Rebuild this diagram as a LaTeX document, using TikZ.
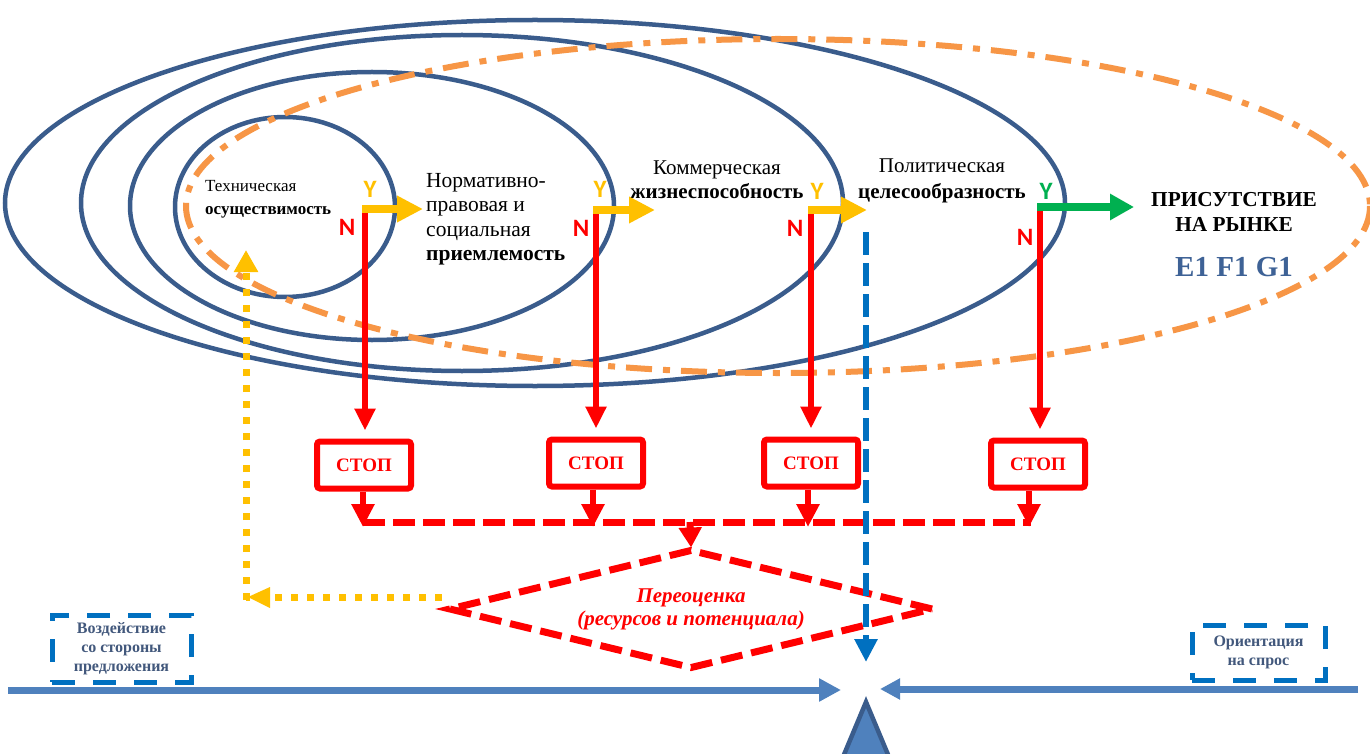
\documentclass[tikz,border=0pt]{standalone}
\usepackage{fontspec}
\setmainfont{Liberation Serif}
\newfontfamily\ynfont{Carlito}
\usetikzlibrary{arrows.meta,shapes.geometric}
\definecolor{ellblue}{RGB}{58,92,140}
\definecolor{orng}{RGB}{247,150,70}
\definecolor{ylw}{RGB}{255,192,0}
\definecolor{grn}{RGB}{0,176,80}
\definecolor{rd}{RGB}{255,0,0}
\definecolor{dblue}{RGB}{0,112,192}
\definecolor{lblue}{RGB}{79,129,189}
\definecolor{boxtxt}{RGB}{66,88,124}
\definecolor{efgblue}{RGB}{62,98,150}
\begin{document}
\begin{tikzpicture}[x=1pt,y=-1pt,
  ell/.style={draw=ellblue,line width=4.5pt},
  orngline/.style={draw=orng,line width=6pt,dash pattern=on 26pt off 11pt on 7pt off 11pt},
  txt/.style={inner sep=0pt},
  ylab/.style={font=\ynfont\bfseries\fontsize{25}{25}\selectfont,text=ylw,inner sep=0pt},
  glab/.style={font=\ynfont\bfseries\fontsize{25}{25}\selectfont,text=grn,inner sep=0pt},
  nlab/.style={font=\ynfont\bfseries\fontsize{25}{25}\selectfont,text=rd,inner sep=0pt},
  yarrow/.style={draw=ylw,line width=8pt,-{Triangle[length=26pt,width=25pt]}},
  garrow/.style={draw=grn,line width=8pt,-{Triangle[length=24pt,width=25pt]}},
  rarrow/.style={draw=rd,line width=6pt,-{Triangle[length=22pt,width=20pt]}},
  rsmall/.style={draw=rd,line width=6pt,-{Triangle[length=23pt,width=22pt]}},
  rdash/.style={draw=rd,line width=7pt,dash pattern=on 22pt off 8pt},
  stopbox/.style={draw=rd,line width=6pt,rounded corners=3pt,minimum width=94pt,minimum height=47pt,fill=white,text=rd,font=\bfseries\fontsize{19}{19}\selectfont},
  ydot/.style={draw=ylw,line width=7pt,dash pattern=on 7pt off 9pt},
  bdash/.style={draw=dblue,line width=6pt,dash pattern=on 23pt off 8pt,-{Triangle[length=23pt,width=22pt]}},
  dbox/.style={draw=dblue,line width=5pt,dash pattern=on 23pt off 18pt,text=boxtxt,font=\bfseries\fontsize{16}{19}\selectfont,align=center,inner sep=0pt},
  baseline/.style={draw=lblue,line width=7pt}
]
\useasboundingbox (0,0) rectangle (1370,754);
\fill[white] (0,0) rectangle (1370,754);

% nested ellipses
\draw[ell] (535,203) ellipse [x radius=530, y radius=183];
\draw[ell] (462,203) ellipse [x radius=381, y radius=168];
\draw[ell] (372,206) ellipse [x radius=242, y radius=134];
\draw[ell] (285,207) ellipse [x radius=110, y radius=90];
\draw[orngline] (778,206) ellipse [x radius=592, y radius=167];

% texts
\node[txt,anchor=west,align=left,font=\fontsize{17}{23}\selectfont] (tech) at (205,199) {Техническая\\\textbf{осуществимость}};
\node[txt,anchor=west,align=left,font=\fontsize{21.5}{24.5}\selectfont] (norm) at (426,219) {Нормативно-\\правовая и\\социальная\\\textbf{приемлемость}};
\node[txt,align=center,font=\fontsize{21}{24}\selectfont] (comm) at (717,180) {Коммерческая\\\textbf{жизнеспособность}};
\node[txt,align=center,font=\fontsize{21}{26}\selectfont] (pol) at (942,181) {Политическая\\\textbf{целесообразность}};
\node[txt,align=center,font=\bfseries\fontsize{21.3}{25}\selectfont] (mkt) at (1234,212) {ПРИСУТСТВИЕ\\НА РЫНКЕ};
\node[txt,font=\bfseries\fontsize{29}{29}\selectfont,text=efgblue] (efg) at (1234,267) {E1 F1 G1};

% Y / N labels
\node[ylab] (y1) at (370,189) {Y};
\node[ylab] (y2) at (600,189) {Y};
\node[ylab] (y3) at (817,191) {Y};
\node[glab] (y4) at (1046,191) {Y};
\node[nlab] (n1) at (347,227) {N};
\node[nlab] (n2) at (581,228) {N};
\node[nlab] (n3) at (795,228) {N};
\node[nlab] (n4) at (1025,237) {N};

% junction coordinates
\coordinate (j1) at (362,209); \coordinate (e1) at (423,209);
\coordinate (j2) at (593,210); \coordinate (e2) at (655,210);
\coordinate (j3) at (808,210); \coordinate (e3) at (867,210);
\coordinate (j4) at (1037,207); \coordinate (e4) at (1134,207);
\coordinate (r1) at (365,213);
\coordinate (r2) at (596,213);
\coordinate (r3) at (811,214);
\coordinate (r4) at (1040,211);

% STOP boxes
\node[stopbox] (s1) at (364,465) {СТОП};
\node[stopbox] (s2) at (596,463) {СТОП};
\node[stopbox] (s3) at (811,463) {СТОП};
\node[stopbox] (s4) at (1038,464) {СТОП};

% red N arrows
\draw[rarrow,shorten >=8pt] (r1) -- (r1 |- s1.north);
\draw[rarrow,shorten >=8pt] (r2) -- (r2 |- s2.north);
\draw[rarrow,shorten >=8pt] (r3) -- (r3 |- s3.north);
\draw[rarrow,shorten >=8pt] (r4) -- (r4 |- s4.north);

% Y arrows
\draw[yarrow] (j1) -- (e1);
\draw[yarrow] (j2) -- (e2);
\draw[yarrow] (j3) -- (e3);
\draw[garrow] (j4) -- (e4);

% collecting dashed line
\coordinate (c1) at (363,522);
\coordinate (c4) at (1031,522);
\coordinate (cm) at (690,522);
\draw[rdash] (c1) -- (c4);
\draw[rsmall] ([xshift=-1pt]s1.south) -- ([xshift=-1pt,yshift=-5pt]s1.south |- c1);
\draw[rsmall] ([xshift=-3pt]s2.south) -- ([xshift=-3pt,yshift=-5pt]s2.south |- c1);
\draw[rsmall] ([xshift=-3pt]s3.south) -- ([xshift=-3pt,yshift=-5pt]s3.south |- c1);
\draw[rsmall] ([xshift=-9pt]s4.south) -- ([xshift=-9pt,yshift=-5pt]s4.south |- c1);

% reassessment diamond
\node[shape=diamond,aspect=4.04,draw=rd,line width=7pt,dash pattern=on 22pt off 9pt,minimum width=485pt,minimum height=120pt,inner sep=0pt,text=rd,font=\bfseries\itshape\fontsize{21}{23}\selectfont,align=center] (reval) at (691,609) {Переоценка\\(ресурсов и потенциала)};
\draw[draw=rd,line width=7pt,-{Triangle[length=20pt,width=22pt]},shorten >=-2pt] (cm) -- (reval.north);

% yellow dotted feedback
\coordinate (yd0) at (442,597);
\coordinate (ycorner) at (246,597);
\coordinate (ytop) at (246,250);
\draw[ydot] (yd0) -- (ycorner);
\fill[ylw] (248,597) -- (270,587) -- (270,608) -- cycle;
\draw[ydot,-{Triangle[length=22pt,width=23pt]}] ([yshift=-3pt]ycorner) -- (ytop);

% blue dashed vertical
\coordinate (bd0) at (866,232);
\coordinate (bd1) at (866,662);
\draw[bdash] (bd0) -- (bd1);

% base line
\coordinate (bl) at (8,690);
\coordinate (bl1) at (841,690);
\coordinate (br) at (1358,689);
\coordinate (br1) at (880,689);
\draw[baseline,-{Triangle[length=22pt,width=22pt]}] (bl) -- (bl1);
\draw[baseline,-{Triangle[length=20pt,width=20pt]}] (br) -- (br1);

% fulcrum
\draw[draw=ellblue,fill=lblue,line width=4.5pt,line join=miter] (843,757) -- (866,702) -- (889,757) -- cycle;

% dashed boxes
\node[dbox,minimum width=139pt,minimum height=67pt] (supply) at (121.5,648.5) {Воздействие\\со стороны\\предложения};
\node[dbox,minimum width=133pt,minimum height=55pt] (demand) at (1258.5,652.5) {Ориентация\\на спрос};
\end{tikzpicture}
\end{document}
